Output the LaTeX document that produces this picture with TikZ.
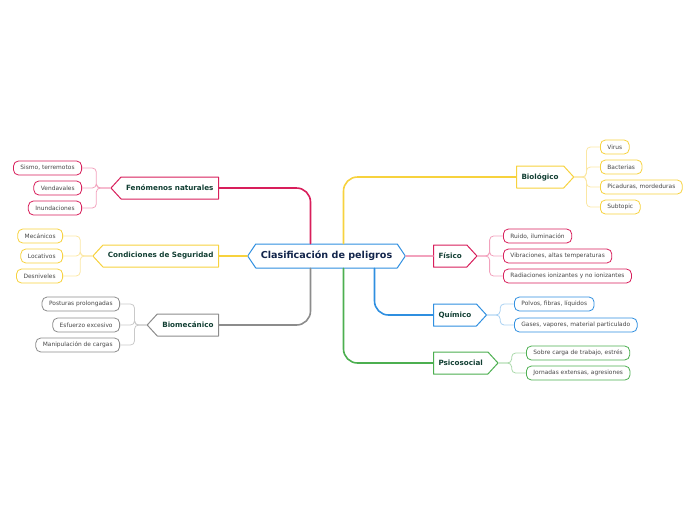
\documentclass[tikz,border=0pt]{standalone}
\usepackage{fontspec}
\setmainfont{DejaVu Sans}
\usetikzlibrary{shapes.symbols}
\definecolor{crim}{HTML}{D81E5B}
\definecolor{crimlight}{HTML}{F2A2BD}
\definecolor{yel}{HTML}{F7D23E}
\definecolor{yellight}{HTML}{FBE7A3}
\definecolor{gry}{HTML}{8C8C8C}
\definecolor{grylight}{HTML}{C9C9C9}
\definecolor{blu}{HTML}{2F8FE0}
\definecolor{blulight}{HTML}{A9D1F2}
\definecolor{grn}{HTML}{4CAF50}
\definecolor{grnlight}{HTML}{AAD9AA}
\definecolor{ink}{HTML}{123F33}
\definecolor{navy}{HTML}{14264C}
\definecolor{leafink}{HTML}{484848}
\begin{document}
\begin{tikzpicture}[x=1pt, y=-1pt, line join=round, line cap=round,
  topic/.style={signal, draw, line width=1pt, fill=white, text=ink,
    font=\fontsize{7.2}{8}\selectfont\bfseries, minimum height=22pt,
    inner xsep=5pt, inner ysep=0pt, signal pointer angle=95},
  leaf/.style={draw, rounded corners=5pt, line width=0.8pt, fill=white, text=leafink,
    font=\fontsize{5.9}{6}\selectfont, minimum height=14pt, inner xsep=7pt, inner ysep=0pt},
  link/.style={line width=1.6pt, rounded corners=14pt},
  twig/.style={line width=0.8pt, rounded corners=4pt}]
\useasboundingbox (0,0) rectangle (696,520);
% central topic
\node[topic, signal to=west and east, draw=blu, text=navy, minimum height=24pt,
  font=\fontsize{9.6}{10}\selectfont\bfseries, signal pointer angle=112] (root) at (326.5,256) {Clasificación de peligros};
% main topics, left side
\node[topic, signal to=west, draw=crim, anchor=east] (fen) at (219,188) {Fenómenos naturales};
\node[topic, signal to=west, draw=yel, anchor=east] (cond) at (219,256) {Condiciones de Seguridad};
\node[topic, signal to=west, draw=gry, anchor=east] (biom) at (219,325) {Biomecánico};
% main topics, right side
\node[topic, signal to=east, draw=yel, anchor=west] (biol) at (516,177) {Biológico};
\node[topic, signal to=east, draw=crim, anchor=west] (fis) at (433,256) {Físico};
\node[topic, signal to=east, draw=blu, anchor=west] (quim) at (433,315) {Químico};
\node[topic, signal to=east, draw=grn, anchor=west] (psic) at (433,363) {Psicosocial};
% links from the centre
\draw[link, crim] ([xshift=-16pt]root.north) |- (fen.east);
\draw[link, yel] (root.west) -- (cond.east);
\draw[link, gry] ([xshift=-16pt]root.south) |- (biom.east);
\draw[link, yel] ([xshift=17pt]root.north) |- (biol.west);
\draw[link, crimlight] (root.east) -- (fis.west);
\draw[link, blu] ([xshift=48pt]root.south) |- (quim.west);
\draw[link, grn] ([xshift=17pt]root.south) |- (psic.west);
% subtopics
\node[leaf, draw=crim, anchor=east] (fen1) at (82,168) {Sismo, terremotos};
\node[leaf, draw=crim, anchor=east] (fen2) at (82,188) {Vendavales};
\node[leaf, draw=crim, anchor=east] (fen3) at (82,208) {Inundaciones};
\node[leaf, draw=yel, anchor=east] (cond1) at (63,236) {Mecánicos};
\node[leaf, draw=yel, anchor=east] (cond2) at (63,256) {Locativos};
\node[leaf, draw=yel, anchor=east] (cond3) at (63,276) {Desniveles};
\node[leaf, draw=gry, anchor=east] (biom1) at (120,304) {Posturas prolongadas};
\node[leaf, draw=gry, anchor=east] (biom2) at (120,325) {Esfuerzo excesivo};
\node[leaf, draw=gry, anchor=east] (biom3) at (120,345) {Manipulación de cargas};
\node[leaf, draw=yel, anchor=west] (biol1) at (600,147) {Virus};
\node[leaf, draw=yel, anchor=west] (biol2) at (600,167) {Bacterias};
\node[leaf, draw=yel, anchor=west] (biol3) at (600,187) {Picaduras, mordeduras};
\node[leaf, draw=yel, anchor=west] (biol4) at (600,207) {Subtopic};
\node[leaf, draw=crim, anchor=west] (fis1) at (503,236) {Ruido, iluminación};
\node[leaf, draw=crim, anchor=west] (fis2) at (503,256) {Vibraciones, altas temperaturas};
\node[leaf, draw=crim, anchor=west] (fis3) at (503,276) {Radiaciones ionizantes y no ionizantes};
\node[leaf, draw=blu, anchor=west] (quim1) at (514,304) {Polvos, fibras, líquidos};
\node[leaf, draw=blu, anchor=west] (quim2) at (514,325) {Gases, vapores, material particulado};
\node[leaf, draw=grn, anchor=west] (psic1) at (526,353) {Sobre carga de trabajo, estrés};
\node[leaf, draw=grn, anchor=west] (psic2) at (526,373) {Jornadas extensas, agresiones};
% twigs
\foreach \n in {fen1,fen2,fen3}
  \draw[twig, crimlight] (fen.west) -- ++(-14,0) |- (\n.east);
\foreach \n in {cond1,cond2,cond3}
  \draw[twig, yellight] (cond.west) -- ++(-12,0) |- (\n.east);
\foreach \n in {biom1,biom2,biom3}
  \draw[twig, grylight] (biom.west) -- ++(-12,0) |- (\n.east);
\foreach \n in {biol1,biol2,biol3,biol4}
  \draw[twig, yellight] (biol.east) -- ++(12,0) |- (\n.west);
\foreach \n in {fis1,fis2,fis3}
  \draw[twig, crimlight] (fis.east) -- ++(12,0) |- (\n.west);
\foreach \n in {quim1,quim2}
  \draw[twig, blulight] (quim.east) -- ++(13,0) |- (\n.west);
\foreach \n in {psic1,psic2}
  \draw[twig, grnlight] (psic.east) -- ++(13,0) |- (\n.west);
\end{tikzpicture}
\end{document}
